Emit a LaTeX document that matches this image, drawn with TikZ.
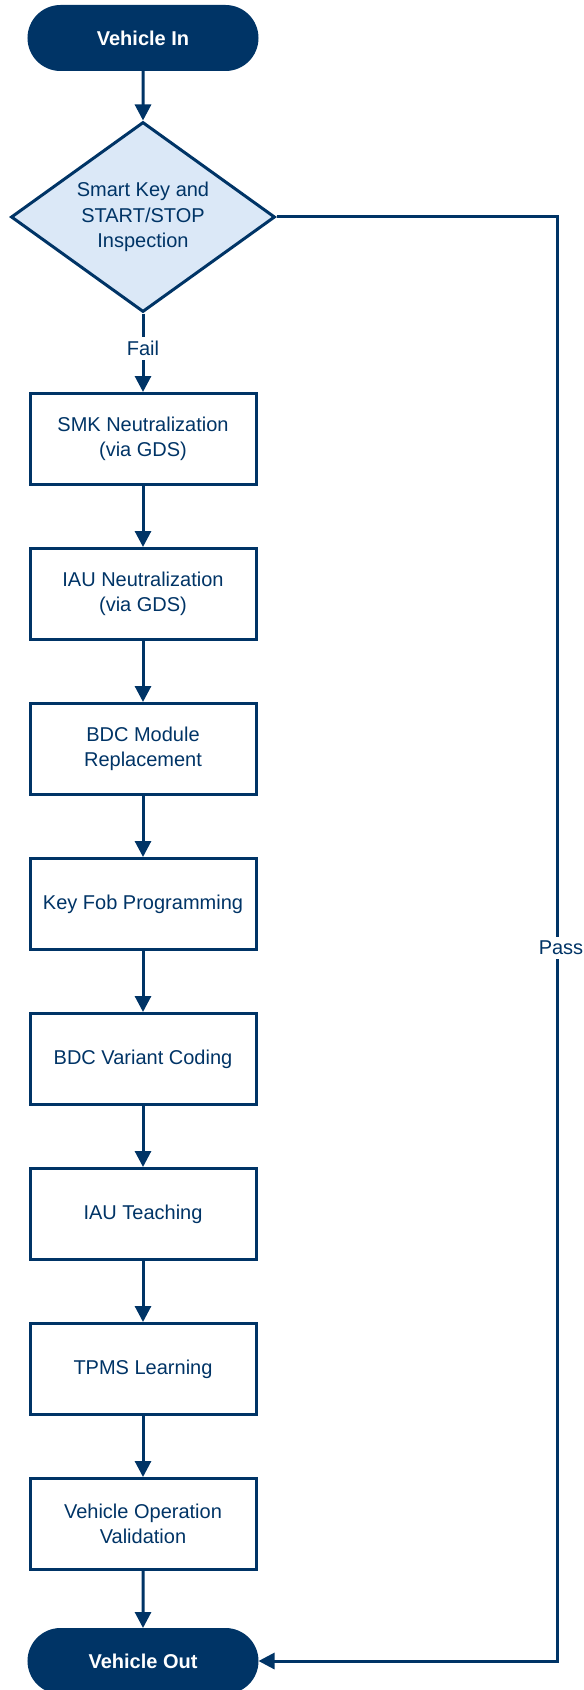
\documentclass[tikz,border=0pt]{standalone}
\usepackage{fontspec}
\setmainfont{Liberation Sans}
\usetikzlibrary{arrows.meta,shapes.geometric,shapes.misc}
\definecolor{navy}{RGB}{0,52,102}
\definecolor{paleblue}{RGB}{219,232,247}

\begin{document}
\begin{tikzpicture}[x=0.5pt, y=-0.5pt,
	font=\fontsize{10}{12.8}\selectfont, text=navy,
	terminal/.style={rounded rectangle, draw=navy, fill=navy, line width=1.5pt, minimum width=114pt, minimum height=31.5pt, inner sep=0pt, text=white, font=\fontsize{10}{12.8}\selectfont\bfseries},
	decision/.style={diamond, aspect=1.4, draw=navy, fill=paleblue, line width=1.5pt, minimum width=132pt, minimum height=95pt, inner sep=0pt, align=center},
	process/.style={rectangle, draw=navy, fill=white, line width=1.5pt, minimum width=113pt, minimum height=45.5pt, inner sep=0pt, align=center},
	flow/.style={draw=navy, line width=1.5pt, -{Triangle[length=8pt,width=8pt]}},
	lbl/.style={fill=white, inner sep=2pt}]
			%%%%% START %%%%%
			
			\useasboundingbox (0, 0) rectangle (583, 1690);
			
			\node[terminal] (vin) at (143, 38) {Vehicle In};
			\node[decision] (check) at (143, 217) {Smart Key and\\START/STOP\\Inspection};
			
			\node[process] (smk) at (143, 439) {SMK Neutralization\\(via GDS)};
			\node[process] (iau) at (143, 594) {IAU Neutralization\\(via GDS)};
			\node[process] (bdc) at (143, 749) {BDC Module\\Replacement};
			\node[process] (fob) at (143, 904) {Key Fob Programming};
			\node[process] (coding) at (143, 1059) {BDC Variant Coding};
			\node[process] (teach) at (143, 1214) {IAU Teaching};
			\node[process] (tpms) at (143, 1369) {TPMS Learning};
			\node[process] (valid) at (143, 1524) {Vehicle Operation\\Validation};
			
			\node[terminal] (vout) at (143, 1661) {Vehicle Out};
			
			\coordinate (rail) at (557, 0);
			
			\draw[flow] (vin) -- (check);
			\draw[flow] (check) -- node[lbl, pos=0.45] {Fail} (smk);
			\draw[flow] (smk) -- (iau);
			\draw[flow] (iau) -- (bdc);
			\draw[flow] (bdc) -- (fob);
			\draw[flow] (fob) -- (coding);
			\draw[flow] (coding) -- (teach);
			\draw[flow] (teach) -- (tpms);
			\draw[flow] (tpms) -- (valid);
			\draw[flow] (valid) -- (vout);
			
			\draw[flow] (check.east) -- (check.east -| rail) -- node[lbl, pos=0.506, xshift=2pt] {Pass} (vout.east -| rail) -- (vout.east);
			
			%%%%% END %%%%%
\end{tikzpicture}
\end{document}
